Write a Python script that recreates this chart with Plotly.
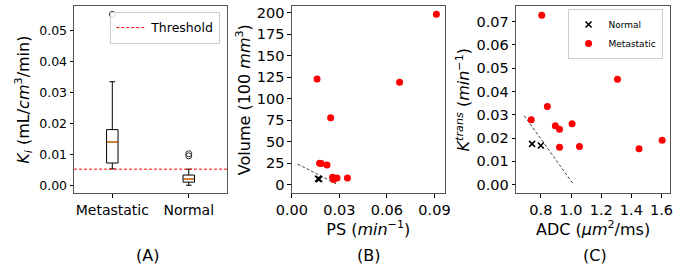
import plotly.graph_objects as go

W, H = 685, 269

# ---------- Panel A: box plot data ----------
box_categories = ["Metastatic", "Normal"]
box_positions = [1, 2]
box_q1 = [0.0072, 0.0010]
box_median = [0.0140, 0.0020]
box_q3 = [0.0180, 0.0033]
box_lower = [0.0053, 0.0000]
box_upper = [0.0335, 0.0052]
outlier_x = [1, 2, 2]
outlier_y = [0.0553, 0.0095, 0.0102]
threshold = 0.0052

# ---------- Panel B: PS vs Volume ----------
ps_meta = [0.0159, 0.0680, 0.0912, 0.0245, 0.0175, 0.0185, 0.0222, 0.0257, 0.0263, 0.0285, 0.0351]
vol_meta = [122.8, 119.0, 198.0, 77.6, 24.7, 24.5, 22.7, 8.5, 5.8, 7.7, 7.7]
ps_norm = [0.0165, 0.0172]
vol_norm = [6.8, 6.3]
line_b_x = [0.0037, 0.0282]
line_b_y = [23.8, 0.7]

# ---------- Panel C: ADC vs Ktrans ----------
adc_meta = [0.806, 0.736, 0.843, 0.896, 0.924, 1.007, 0.924, 1.056, 1.308, 1.451, 1.604]
kt_meta = [0.0727, 0.0279, 0.0335, 0.0253, 0.0238, 0.0261, 0.0161, 0.0164, 0.0453, 0.0154, 0.0191]
adc_norm = [0.742, 0.800]
kt_norm = [0.0175, 0.0168]
line_c_x = [0.690, 1.012]
line_c_y = [0.0296, 0.0005]

panel_labels = ["(A)", "(B)", "(C)"]

FONT = "DejaVu Sans"
BOX_W = 0.15

def px_x(a, b):
    return [a / W, b / W]

y_dom = [(H - 193) / H, (H - 5) / H]

fig = go.Figure()

# Panel A boxes
for i in range(2):
    fig.add_trace(go.Box(
        x=[box_positions[i]], q1=[box_q1[i]], median=[box_median[i]], q3=[box_q3[i]],
        lowerfence=[box_lower[i]], upperfence=[box_upper[i]],
        width=BOX_W, whiskerwidth=0.5,
        line=dict(color="black", width=1), fillcolor="rgba(0,0,0,0)",
        boxpoints=False, showlegend=False, xaxis="x", yaxis="y", hoverinfo="skip"))
    # orange median line
    fig.add_trace(go.Scatter(
        x=[box_positions[i] - BOX_W / 2 + 0.005, box_positions[i] + BOX_W / 2 - 0.005],
        y=[box_median[i], box_median[i]], mode="lines",
        line=dict(color="#ff7f0e", width=1.2), showlegend=False, xaxis="x", yaxis="y"))

fig.add_trace(go.Scatter(
    x=outlier_x, y=outlier_y, mode="markers",
    marker=dict(symbol="circle-open", size=6, color="#333", line=dict(width=1)),
    showlegend=False, xaxis="x", yaxis="y"))

fig.add_trace(go.Scatter(
    x=[0.5, 2.5], y=[threshold, threshold], mode="lines", name="Threshold",
    line=dict(color="red", width=1, dash="3px,2px"), xaxis="x", yaxis="y", legend="legend"))

# Panel B
fig.add_trace(go.Scatter(x=line_b_x, y=line_b_y, mode="lines",
                         line=dict(color="#444", width=1, dash="3px,2px"),
                         showlegend=False, xaxis="x2", yaxis="y2"))
fig.add_trace(go.Scatter(x=ps_meta, y=vol_meta, mode="markers",
                         marker=dict(color="red", size=7), showlegend=False,
                         xaxis="x2", yaxis="y2"))
fig.add_trace(go.Scatter(x=ps_norm, y=vol_norm, mode="markers",
                         marker=dict(symbol="x-thin", size=6, color="black",
                                     line=dict(width=1.6, color="black")),
                         showlegend=False, xaxis="x2", yaxis="y2"))

# Panel C
fig.add_trace(go.Scatter(x=line_c_x, y=line_c_y, mode="lines",
                         line=dict(color="#444", width=1, dash="3px,2px"),
                         showlegend=False, xaxis="x3", yaxis="y3"))
fig.add_trace(go.Scatter(x=adc_norm, y=kt_norm, mode="markers", name="Normal",
                         marker=dict(symbol="x-thin", size=6, color="black",
                                     line=dict(width=1.6, color="black")),
                         xaxis="x3", yaxis="y3", legend="legend2"))
fig.add_trace(go.Scatter(x=adc_meta, y=kt_meta, mode="markers", name="Metastatic",
                         marker=dict(color="red", size=7),
                         xaxis="x3", yaxis="y3", legend="legend2"))


def axis_style(size):
    return dict(showline=True, mirror=True, linecolor="#555", linewidth=1,
                ticks="outside", ticklen=3.5, tickcolor="black", showgrid=False,
                zeroline=False, tickfont=dict(family=FONT, size=size, color="black"))


title_font = dict(family=FONT, size=16, color="black")

fig.update_layout(
    width=W, height=H, margin=dict(l=0, r=0, t=0, b=0),
    paper_bgcolor="white", plot_bgcolor="white",
    font=dict(family=FONT, color="black"),
    xaxis=dict(domain=px_x(60, 218), range=[0.5, 2.5], tickvals=box_positions,
               ticktext=box_categories, anchor="y", **axis_style(14)),
    yaxis=dict(domain=y_dom, range=[-0.0026, 0.058], tickvals=[0, 0.01, 0.02, 0.03, 0.04, 0.05],
               tickformat=".2f", anchor="x",
               title=dict(text="<i>K<sub>i</sub></i> (mL/<i>cm</i><sup>3</sup>/min)",
                          font=title_font, standoff=5), **axis_style(12.5)),
    xaxis2=dict(domain=px_x(285, 443), range=[0.0, 0.0965], tickvals=[0, 0.03, 0.06, 0.09],
                tickformat=".2f", anchor="y2",
                title=dict(text="PS (<i>min</i><sup>−1</sup>)", font=title_font, standoff=2),
                **axis_style(14.5)),
    yaxis2=dict(domain=y_dom, range=[-10.1, 207.7], tickvals=[0, 25, 50, 75, 100, 125, 150, 175, 200],
                anchor="x2",
                title=dict(text="Volume (100 <i>mm</i><sup>3</sup>)", font=title_font, standoff=2),
                **axis_style(14.5)),
    xaxis3=dict(domain=px_x(516.7, 675.7), range=[0.636, 1.656],
                tickvals=[0.8, 1.0, 1.2, 1.4, 1.6], tickformat=".1f", anchor="y3",
                title=dict(text="ADC (<i>μm</i><sup>2</sup>/ms)", font=title_font, standoff=2),
                **axis_style(14.5)),
    yaxis3=dict(domain=y_dom, range=[-0.0037, 0.0767],
                tickvals=[0, 0.01, 0.02, 0.03, 0.04, 0.05, 0.06, 0.07], tickformat=".2f",
                anchor="x3",
                title=dict(text="<i>K<sup>trans</sup></i> (<i>min</i><sup>−1</sup>)",
                           font=title_font, standoff=2), **axis_style(14.5)),
    legend=dict(x=211 / W, y=(H - 11) / H, xanchor="right", yanchor="top",
                bgcolor="rgba(255,255,255,0.8)", bordercolor="#ccc", borderwidth=1,
                font=dict(family=FONT, size=12.5, color="black"), itemwidth=30,
                tracegroupgap=0),
    legend2=dict(x=668 / W, y=(H - 8) / H, xanchor="right", yanchor="top",
                 bgcolor="rgba(255,255,255,0.8)", bordercolor="#ccc", borderwidth=1,
                 font=dict(family=FONT, size=9, color="black"), itemwidth=30,
                 tracegroupgap=0),
)

label_x = [136, 364, 598]
for lbl, lx in zip(panel_labels, label_x):
    fig.add_annotation(text=lbl, x=lx / W, y=(H - 255) / H, xref="paper", yref="paper",
                       showarrow=False, font=dict(family=FONT, size=16, color="black"),
                       xanchor="center", yanchor="middle")

fig.write_html("out.html", config={"displayModeBar": False})

# remove default page margin so the figure sits at the window's top-left corner
with open("out.html", "r", encoding="utf-8") as f:
    html = f.read()
html = html.replace("<head>", "<head><style>html,body{margin:0;padding:0;overflow:hidden;}</style>", 1)
with open("out.html", "w", encoding="utf-8") as f:
    f.write(html)
